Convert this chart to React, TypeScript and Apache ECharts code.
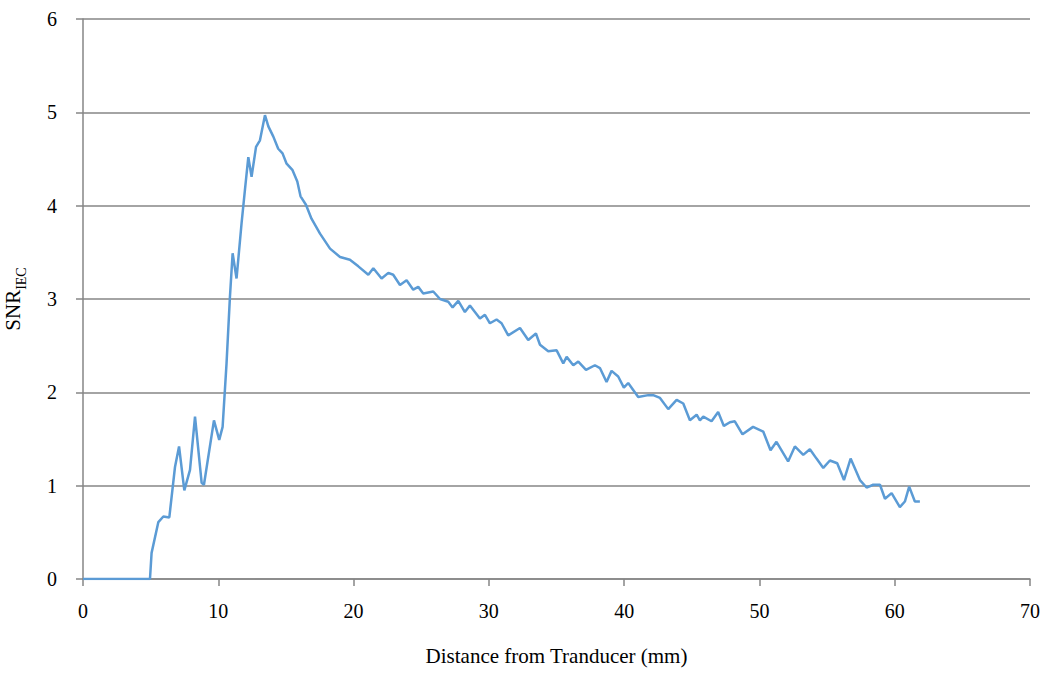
import React, { useEffect, useRef } from "react";
import * as echarts from "echarts";

const distance: number[] = [
  0, 4.95, 5.07, 5.57, 5.94, 6.38, 6.8, 7.1, 7.49, 7.91, 8.28, 8.77, 8.94, 9.68, 10.07, 10.32,
  10.61, 10.86, 11.06, 11.35, 11.72, 11.97, 12.22, 12.46, 12.79, 13.08, 13.45, 13.7, 14.07,
  14.43, 14.75, 15.05, 15.49, 15.84, 16.08, 16.48, 16.89, 17.52, 18.26, 19.0, 19.73, 20.35,
  21.09, 21.46, 22.07, 22.57, 22.93,
  23.43, 23.92, 24.41, 24.78, 25.15, 25.89, 26.39, 27.0, 27.32, 27.74, 28.23, 28.6, 29.34,
  29.71, 30.08, 30.57, 30.94, 31.43, 32.3, 32.91, 33.48, 33.78, 34.39, 35.01, 35.5, 35.75,
  36.24, 36.61, 37.18, 37.84, 38.21, 38.7, 39.07, 39.56, 39.98, 40.3, 41.04, 41.78, 42.15,
  42.65, 43.26, 43.88, 44.37, 44.86, 45.36, 45.6, 45.85, 46.46, 46.95, 47.37, 47.82, 48.18,
  48.75, 49.53, 50.28, 50.82, 51.26, 52.12, 52.62, 53.24, 53.73, 54.22, 54.72, 55.21, 55.75,
  56.25, 56.74, 57.43, 57.92, 58.41, 58.91, 59.28, 59.77, 60.38, 60.75, 61.07, 61.49, 61.86,
];

const snr: number[] = [
  0, 0, 0.28, 0.61, 0.67, 0.66, 1.2, 1.42, 0.95, 1.17, 1.74, 1.03, 1.01, 1.7, 1.49, 1.63,
  2.31, 3.02, 3.49, 3.22, 3.81, 4.17, 4.52, 4.31, 4.63, 4.7, 4.97, 4.85, 4.74,
  4.61, 4.56, 4.45, 4.38, 4.26, 4.1, 4.01, 3.86, 3.7, 3.54, 3.45, 3.42, 3.35,
  3.26, 3.33, 3.22, 3.28, 3.26,
  3.15, 3.2, 3.1, 3.13, 3.06, 3.08, 3.0, 2.97, 2.91, 2.98, 2.86, 2.93, 2.79,
  2.83, 2.74, 2.78, 2.74, 2.61, 2.69, 2.56, 2.63, 2.51, 2.44, 2.45, 2.31, 2.38,
  2.29, 2.33, 2.24, 2.29, 2.26, 2.11, 2.23, 2.17, 2.05, 2.1, 1.95, 1.97, 1.97,
  1.94, 1.82, 1.92, 1.88, 1.7, 1.76, 1.7, 1.74, 1.69, 1.79, 1.64, 1.68, 1.69,
  1.55, 1.63, 1.58, 1.38, 1.47, 1.26, 1.42, 1.33, 1.39, 1.29, 1.19, 1.27, 1.24,
  1.06, 1.29, 1.06, 0.98, 1.01, 1.01, 0.86, 0.92, 0.77, 0.83, 0.99, 0.83, 0.83,
];

const xTicks = { min: 0, max: 70, interval: 10 };
const yTicks = { min: 0, max: 6, interval: 1 };

export default function App() {
  const ref = useRef<HTMLDivElement>(null);
  useEffect(() => {
    if (!ref.current) return;
    const chart = echarts.init(ref.current, null, { renderer: "svg" });
    const font = "'Liberation Serif', 'DejaVu Serif', serif";
    chart.setOption({
      animation: false,
      backgroundColor: "#ffffff",
      grid: { left: 83, right: 21, top: 19, bottom: 96, containLabel: false, outerBoundsMode: "none" },
      xAxis: {
        type: "value",
        min: xTicks.min,
        max: xTicks.max,
        interval: xTicks.interval,
        name: "Distance from Tranducer (mm)",
        nameLocation: "middle",
        nameGap: 66,
        nameTextStyle: { fontFamily: font, fontSize: 21, color: "#000" },
        axisLine: { show: true, onZero: false, lineStyle: { color: "#868686", width: 1.5 } },
        axisTick: { show: true, length: 7, lineStyle: { color: "#868686", width: 1.5 } },
        axisLabel: { fontFamily: font, fontSize: 20, color: "#000", margin: 22 },
        splitLine: { show: false },
      },
      yAxis: {
        type: "value",
        min: yTicks.min,
        max: yTicks.max,
        interval: yTicks.interval,
        name: "{a|SNR}{b|IEC}",
        nameLocation: "middle",
        nameGap: 60,
        nameRotate: 90,
        nameTextStyle: {
          fontFamily: font,
          color: "#000",
          rich: {
            a: { fontFamily: font, fontSize: 21, color: "#000", lineHeight: 24, verticalAlign: "bottom" },
            b: { fontFamily: font, fontSize: 14, color: "#000", lineHeight: 24, verticalAlign: "bottom", padding: [0, 0, -5, 0] },
          },
        },
        axisLine: { show: true, lineStyle: { color: "#868686", width: 1.5 } },
        axisTick: { show: true, length: 7, lineStyle: { color: "#868686", width: 1.5 } },
        axisLabel: { fontFamily: font, fontSize: 20, color: "#000", margin: 26 },
        splitLine: { show: true, lineStyle: { color: "#868686", width: 1.5 } },
      },
      series: [
        {
          type: "line",
          data: distance.map((d, i) => [d, snr[i]]),
          showSymbol: false,
          symbol: "none",
          lineStyle: { color: "#5B9BD5", width: 2.5 },
          itemStyle: { color: "#5B9BD5" },
        },
      ],
    });
    return () => chart.dispose();
  }, []);
  return <div ref={ref} style={{ width: 1051, height: 675, position: "absolute", left: 0, top: 0 }} />;
}
